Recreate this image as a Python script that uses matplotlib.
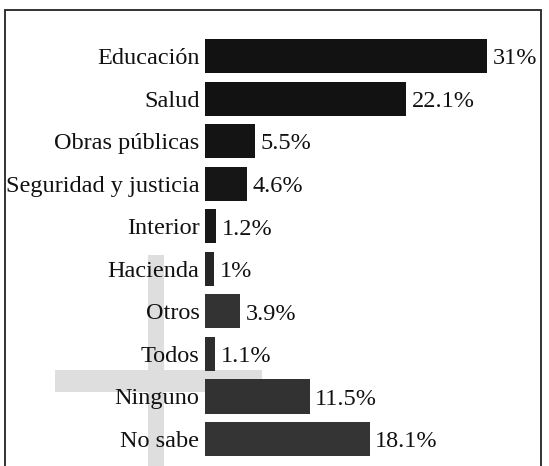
import matplotlib.pyplot as plt
from matplotlib.patches import Rectangle

# Datos
categorias = ["Educación", "Salud", "Obras públicas", "Seguridad y justicia",
              "Interior", "Hacienda", "Otros", "Todos", "Ninguno", "No sabe"]
valores = [31, 22.1, 5.5, 4.6, 1.2, 1, 3.9, 1.1, 11.5, 18.1]
etiquetas = ["31%", "22.1%", "5.5%", "4.6%", "1.2%", "1%", "3.9%", "1.1%", "11.5%", "18.1%"]
colores = ["#121212", "#121212", "#141414", "#161616", "#181818",
           "#262626", "#333333", "#2e2e2e", "#323232", "#343434"]

plt.rcParams['font.family'] = ['Liberation Serif', 'DejaVu Serif']

W, H = 549, 466
fig = plt.figure(figsize=(W / 100, H / 100), dpi=100)
fig.patch.set_facecolor("white")

# marco
fig.add_artist(Rectangle((5 / W, -0.05), 536 / W, 1.05 - 10 / H, transform=fig.transFigure,
                         fill=False, edgecolor="#222222", linewidth=1.3))

# cruz gris clara del escaneo
fig.add_artist(Rectangle((148 / W, 0), 16 / W, 1 - 255 / H, transform=fig.transFigure,
                         facecolor="#dedede", edgecolor="none", zorder=0))
fig.add_artist(Rectangle((55 / W, 1 - 392 / H), 207 / W, 22 / H, transform=fig.transFigure,
                         facecolor="#dedede", edgecolor="none", zorder=0))

ax = fig.add_axes([205 / W, 0, 335 / W, 1])
ax.patch.set_alpha(0)
y = list(range(len(categorias)))
ax.barh(y, valores, height=0.8, color=colores, zorder=2)

px = 42.56
ax.set_ylim((H - 56) / px, -56 / px)
ax.set_xlim(0, 335 / 9.1)

for yi, v, t in zip(y, valores, etiquetas):
    ax.annotate(t, (v, yi), xytext=(4, -2), textcoords="offset points",
                ha="left", va="center", fontsize=17.5, color="#111111")

ax.set_yticks(y)
ax.set_yticklabels(categorias, fontsize=17.5, color="#111111")
ax.tick_params(axis="y", length=0, pad=4)
ax.set_xticks([])
for s in ax.spines.values():
    s.set_visible(False)

fig.savefig("out.png", dpi=100)
